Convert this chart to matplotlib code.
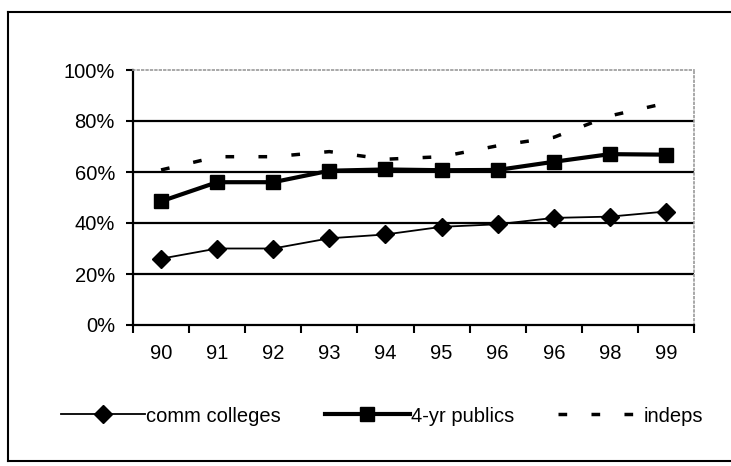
import numpy as np
import matplotlib
matplotlib.use("Agg")
import matplotlib.pyplot as plt
from matplotlib.lines import Line2D

plt.rcParams['font.family'] = ['Liberation Sans', 'DejaVu Sans']

years = ['90', '91', '92', '93', '94', '95', '96', '96', '98', '99']
comm_colleges = [26, 30, 30, 34, 35.5, 38.5, 39.5, 42, 42.5, 44.5]
four_yr_publics = [48.5, 56, 56, 60.5, 61, 60.7, 60.8, 64, 67, 66.8]
indeps = [60.8, 66, 66, 68, 65, 66, 70.3, 73.6, 82, 87]

W, H = 731, 466
fig = plt.figure(figsize=(W / 100, H / 100), dpi=100)
ax = fig.add_axes([133 / W, 1 - 325 / H, (694 - 133) / W, (325 - 70) / H])

# outer frame (right edge is cut off in the scan)
fig.lines.append(Line2D([8 / W, 1.0], [1 - 12 / H] * 2, transform=fig.transFigure, color='black', lw=1.5))
fig.lines.append(Line2D([8 / W, 1.0], [1 - 461 / H] * 2, transform=fig.transFigure, color='black', lw=1.5))
fig.lines.append(Line2D([8 / W] * 2, [1 - 12 / H, 1 - 461 / H], transform=fig.transFigure, color='black', lw=1.5))

x = np.arange(len(years)) + 0.5

for v in [20, 40, 60, 80]:
    ax.axhline(v, color='black', lw=1.6, zorder=1)

ax.plot(x, comm_colleges, color='black', lw=1.3, marker='D', ms=9, label='comm colleges', zorder=3)
ax.plot(x, four_yr_publics, color='black', lw=3, marker='s', ms=10.5, label='4-yr publics', zorder=3)
ax.plot(x, indeps, color='black', lw=2.5, linestyle=(0, (2.5, 7)), label='indeps', zorder=3)

ax.set_xlim(0, len(years))
ax.set_ylim(0, 100)
ax.set_yticks(range(0, 101, 20))
ax.set_yticklabels(['{}%'.format(v) for v in range(0, 101, 20)], fontsize=14.5)
ax.set_xticks(np.arange(len(years) + 1))
ax.set_xticklabels([])
ax.set_xticks(x, minor=True)
ax.set_xticklabels(years, minor=True, fontsize=14.5)
ax.tick_params(axis='x', which='minor', length=0, pad=14)
ax.tick_params(axis='x', which='major', length=6, width=1.5, direction='out')
ax.tick_params(axis='y', length=5, width=1.5, direction='out', pad=8)

for s in ['left', 'bottom']:
    ax.spines[s].set_linewidth(1.6)
for s in ['top', 'right']:
    ax.spines[s].set_color('#999999')
    ax.spines[s].set_linestyle(':')
    ax.spines[s].set_linewidth(1.2)

fig.legend(loc='center', bbox_to_anchor=(382 / W, 1 - 416 / H), ncol=3, frameon=False,
           fontsize=14.5, handlelength=4.2, handletextpad=0.05, columnspacing=2.2)

fig.savefig('out.png', dpi=100)
